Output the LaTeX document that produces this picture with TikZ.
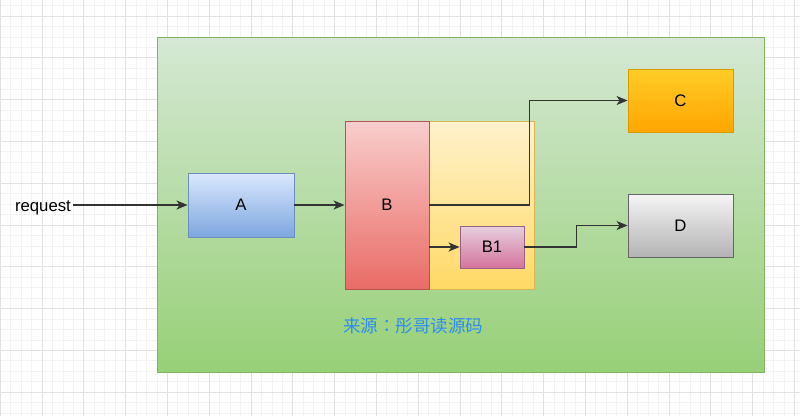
\documentclass[tikz,border=0pt]{standalone}
\usepackage{fontspec}
\setmainfont{Liberation Sans}
\newfontfamily\cjk{Noto Sans CJK TC}
\usetikzlibrary{arrows.meta}
\definecolor{gridminor}{HTML}{F3F3F3}
\definecolor{gridmajor}{HTML}{E2E2E2}
\definecolor{srcblue}{HTML}{2C8EF0}

\begin{document}
\begin{tikzpicture}[x=1pt,y=-1pt,
  box/.style={draw,line width=0.9pt,inner sep=0pt,font=\fontsize{16.7}{20}\selectfont},
  link/.style={line width=1.4pt,black!80,-{Stealth[length=11pt,width=9pt,inset=3pt]}}]
  \useasboundingbox (0,0) rectangle (800,416);
  % background grid
  \fill[white] (0,0) rectangle (800,416);
  \foreach \i in {0,...,76} \draw[gridminor,line width=0.8pt] (0.2+10.45*\i,0)--(0.2+10.45*\i,416);
  \foreach \i in {0,...,41} \draw[gridminor,line width=0.8pt] (0,-4.9+10.45*\i)--(800,-4.9+10.45*\i);
  \foreach \i in {0,...,19} \draw[gridmajor,line width=1pt] (0.2+41.8*\i,0)--(0.2+41.8*\i,416);
  \foreach \i in {0,...,9} \draw[gridmajor,line width=1pt] (0,16+41.8*\i)--(800,16+41.8*\i);

  \node[box,draw={rgb,255:red,130;green,179;blue,102},top color={rgb,255:red,213;green,232;blue,212},bottom color={rgb,255:red,151;green,208;blue,119},
    minimum width=607pt,minimum height=335pt] (frame) at (460.5,204.5) {};
  \node[box,draw={rgb,255:red,214;green,182;blue,86},top color={rgb,255:red,255;green,242;blue,204},bottom color={rgb,255:red,255;green,217;blue,102},
    minimum width=189pt,minimum height=168pt] (inner) at (439.5,205) {};
  \node[box,draw={rgb,255:red,108;green,142;blue,191},top color={rgb,255:red,218;green,232;blue,252},bottom color={rgb,255:red,126;green,166;blue,224},
    minimum width=106pt,minimum height=64pt] (A) at (241,205) {A};
  \node[box,draw={rgb,255:red,184;green,84;blue,80},top color={rgb,255:red,248;green,206;blue,204},bottom color={rgb,255:red,234;green,107;blue,102},
    minimum width=84pt,minimum height=168pt] (B) at (387,205) {B};
  \node[box,draw={rgb,255:red,153;green,97;blue,133},top color={rgb,255:red,230;green,208;blue,222},bottom color={rgb,255:red,213;green,115;blue,157},
    minimum width=64pt,minimum height=42pt] (B1) at (492,247) {B1};
  \node[box,draw={rgb,255:red,215;green,155;blue,0},top color={rgb,255:red,255;green,205;blue,40},bottom color={rgb,255:red,255;green,165;blue,0},
    minimum width=105pt,minimum height=63pt] (C) at (680.5,100.5) {C};
  \node[box,draw={rgb,255:red,102;green,102;blue,102},top color={rgb,255:red,245;green,245;blue,245},bottom color={rgb,255:red,179;green,179;blue,179},
    minimum width=105pt,minimum height=63pt] (D) at (680.5,225.5) {D};
  \node[font=\fontsize{16.7}{20}\selectfont,inner sep=2pt,anchor=east] (req) at (73,207.5) {request};
  \node[text=srcblue,font=\cjk\fontsize{17.5}{20}\selectfont] (src) at (413,326) {来源：彤哥读源码};

  \draw[link] (req.east |- A.west) -- (A.west);
  \draw[link] (A.east) -- (B.west);
  \draw[link] (B.east) -- ++(100,0) |- (C.west);
  \draw[link] (B.east |- B1.west) -- (B1.west);
  \draw[link] (B1.east) -- ++(52,0) |- (D.west);
\end{tikzpicture}
\end{document}
